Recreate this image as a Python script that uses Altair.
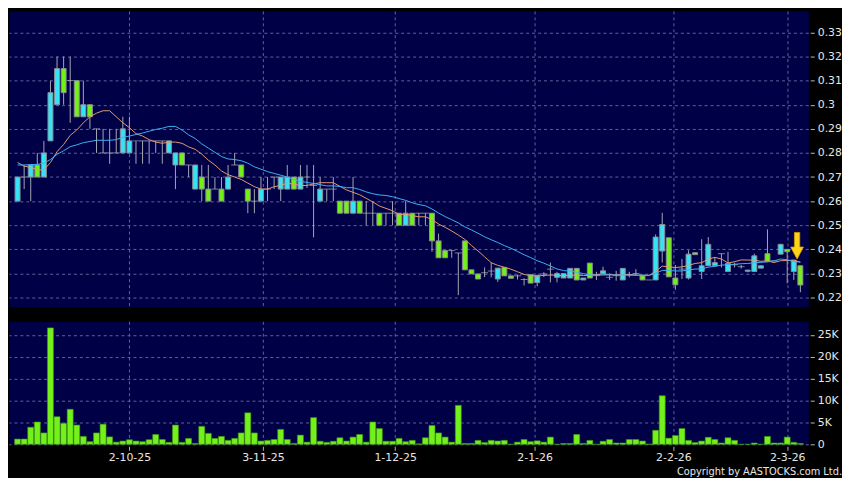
import altair as alt
import pandas as pd
import numpy as np

# ---- data ----
opens = [0.260, 0.270, 0.270, 0.275, 0.270, 0.285, 0.300, 0.315, 0.310, 0.310,
         0.295, 0.300, 0.290, 0.280, 0.280, 0.280, 0.280, 0.280, 0.285, 0.285,
         0.285, 0.285, 0.285, 0.280, 0.275, 0.280, 0.275, 0.265, 0.270, 0.265,
         0.265, 0.265, 0.265, 0.275, 0.275, 0.265, 0.260, 0.260, 0.265, 0.270,
         0.265, 0.265, 0.270, 0.265, 0.270, 0.2665, 0.260, 0.265, 0.265, 0.260,
         0.260, 0.255, 0.260, 0.255, 0.255, 0.255, 0.255, 0.255, 0.255, 0.250,
         0.255, 0.255, 0.255, 0.255, 0.2435, 0.2395, 0.2395, 0.2385, 0.2435, 0.2315,
         0.2298, 0.2303, 0.231, 0.2277, 0.2325, 0.229, 0.229, 0.2275, 0.2295, 0.2262,
         0.2298, 0.2318, 0.2284, 0.2281, 0.2281, 0.2321, 0.2273, 0.2343, 0.2291, 0.230,
         0.2284, 0.2291, 0.2273, 0.2295, 0.230, 0.2291, 0.2273, 0.2273, 0.2393, 0.2448,
         0.2281, 0.2318, 0.2281, 0.2386, 0.2308, 0.2332, 0.2332, 0.2382, 0.2308, 0.2336,
         0.2328, 0.2309, 0.2308, 0.2322, 0.2382, 0.2352, 0.238, 0.240, 0.2308, 0.2332]
highs = [0.270, 0.275, 0.275, 0.280, 0.285, 0.310, 0.320, 0.320, 0.320, 0.310,
         0.310, 0.300, 0.290, 0.290, 0.290, 0.290, 0.295, 0.295, 0.285, 0.285,
         0.285, 0.285, 0.285, 0.285, 0.280, 0.280, 0.275, 0.275, 0.275, 0.275,
         0.270, 0.270, 0.275, 0.280, 0.275, 0.265, 0.265, 0.270, 0.270, 0.270,
         0.270, 0.275, 0.270, 0.275, 0.275, 0.275, 0.270, 0.265, 0.270, 0.260,
         0.260, 0.270, 0.260, 0.260, 0.260, 0.255, 0.255, 0.260, 0.255, 0.260,
         0.255, 0.255, 0.255, 0.255, 0.2465, 0.2395, 0.2395, 0.2385, 0.2435, 0.2315,
         0.2298, 0.2325, 0.2345, 0.2322, 0.2325, 0.229, 0.2295, 0.228, 0.2295, 0.2295,
         0.2305, 0.2345, 0.2307, 0.230, 0.2321, 0.2321, 0.2281, 0.2343, 0.2307, 0.2328,
         0.230, 0.2311, 0.2321, 0.2307, 0.2318, 0.2291, 0.2273, 0.2462, 0.2551, 0.2448,
         0.2335, 0.236, 0.2396, 0.2386, 0.2442, 0.2451, 0.2368, 0.2382, 0.239, 0.2345,
         0.2335, 0.2314, 0.2382, 0.2332, 0.2483, 0.2352, 0.2421, 0.240, 0.2355, 0.2332]
lows = [0.260, 0.265, 0.260, 0.270, 0.270, 0.285, 0.300, 0.300, 0.2925, 0.295,
        0.295, 0.290, 0.280, 0.280, 0.2755, 0.280, 0.280, 0.280, 0.2755, 0.2755,
        0.2755, 0.280, 0.2755, 0.280, 0.265, 0.275, 0.270, 0.265, 0.260, 0.260,
        0.265, 0.260, 0.265, 0.275, 0.270, 0.255, 0.255, 0.260, 0.260, 0.265,
        0.260, 0.265, 0.265, 0.265, 0.2655, 0.245, 0.260, 0.260, 0.260, 0.255,
        0.255, 0.255, 0.255, 0.250, 0.250, 0.250, 0.250, 0.250, 0.250, 0.250,
        0.250, 0.250, 0.250, 0.239, 0.2365, 0.2365, 0.2365, 0.221, 0.2315, 0.2298,
        0.2277, 0.2285, 0.2284, 0.2265, 0.229, 0.228, 0.2275, 0.225, 0.226, 0.2247,
        0.2285, 0.2263, 0.2263, 0.2281, 0.2281, 0.2273, 0.2273, 0.2281, 0.2273, 0.230,
        0.2273, 0.227, 0.2273, 0.2284, 0.2291, 0.2273, 0.2273, 0.2273, 0.2345, 0.2286,
        0.2232, 0.2277, 0.2275, 0.2378, 0.2277, 0.2332, 0.2332, 0.2325, 0.2308, 0.2325,
        0.232, 0.2305, 0.2308, 0.2322, 0.2349, 0.2352, 0.238, 0.2259, 0.2273, 0.2222]
closes = [0.270, 0.270, 0.275, 0.270, 0.280, 0.305, 0.315, 0.305, 0.310, 0.295,
          0.300, 0.295, 0.290, 0.280, 0.280, 0.280, 0.290, 0.285, 0.285, 0.285,
          0.285, 0.285, 0.285, 0.285, 0.280, 0.275, 0.275, 0.275, 0.265, 0.260,
          0.265, 0.260, 0.270, 0.275, 0.270, 0.260, 0.260, 0.265, 0.265, 0.270,
          0.270, 0.270, 0.265, 0.270, 0.270, 0.2665, 0.265, 0.265, 0.265, 0.255,
          0.255, 0.260, 0.255, 0.255, 0.255, 0.250, 0.255, 0.255, 0.250, 0.255,
          0.250, 0.255, 0.255, 0.2435, 0.2365, 0.2365, 0.2395, 0.2385, 0.2315, 0.2298,
          0.2277, 0.2303, 0.231, 0.2322, 0.229, 0.228, 0.229, 0.2275, 0.226, 0.229,
          0.2298, 0.2318, 0.230, 0.230, 0.2321, 0.2273, 0.2281, 0.2281, 0.2291, 0.2311,
          0.2284, 0.2291, 0.2321, 0.2295, 0.230, 0.2273, 0.2273, 0.2451, 0.2503, 0.2286,
          0.2253, 0.2318, 0.238, 0.2378, 0.2332, 0.2421, 0.2345, 0.2382, 0.2341, 0.2336,
          0.2328, 0.2314, 0.2373, 0.2332, 0.2349, 0.2352, 0.2421, 0.239, 0.2355, 0.2252]
volumes_k = [1.2, 1.2, 3.9, 5.1, 2.6, 26.6, 6.3, 4.8, 8.0, 4.4,
             1.8, 0.6, 2.6, 4.6, 1.7, 0.5, 0.75, 1.05, 0.75, 0.6,
             1.05, 2.25, 1.1, 0.45, 4.4, 0.45, 1.35, 0.2, 4.1, 2.5,
             1.35, 1.8, 0.9, 1.35, 2.6, 7.2, 2.6, 0.75, 0.9, 1.1,
             3.4, 1.1, 0.2, 2.1, 0.5, 6.1, 0.7, 0.45, 0.7, 1.5,
             0.75, 1.65, 2.25, 0.5, 5.1, 3.6, 0.7, 0.7, 1.35, 0.6,
             0.9, 0.1, 1.5, 4.3, 2.6, 1.65, 0.5, 8.9, 0.2, 0.2,
             0.9, 0.4, 0.9, 0.75, 0.9, 0.0, 0.5, 1.1, 0.6, 0.8,
             0.5, 1.65, 0.0, 0.2, 0.2, 2.25, 0.2, 0.9, 0.0, 0.7,
             1.1, 0.3, 0.3, 1.1, 1.1, 0.75, 0.05, 3.2, 11.1, 1.4,
             2.0, 3.6, 0.9, 0.4, 0.75, 1.6, 1.1, 0.3, 1.5, 0.9,
             0.0, 0.0, 0.3, 0.0, 1.8, 0.3, 0.3, 1.65, 0.45, 0.2]
# estimated closes of the sessions just before the window (only feed the moving averages)
prior_closes = [0.270, 0.272, 0.268, 0.270, 0.275, 0.272, 0.275, 0.276, 0.280, 0.282,
                0.285, 0.280, 0.280, 0.280, 0.275, 0.270, 0.275, 0.272, 0.273]

tick_pos = [17, 37.3, 57.4, 78.6, 99.7, 117]
tick_labels = ["2-10-25", "3-11-25", "1-12-25", "2-1-26", "2-2-26", "2-3-26"]
price_ticks = [0.22, 0.23, 0.24, 0.25, 0.26, 0.27, 0.28, 0.29, 0.30, 0.31, 0.32, 0.33]
vol_ticks = [0, 5000, 10000, 15000, 20000, 25000]
arrow_i = [118.5]
arrow_price = [0.2415]
copyright_text = "Copyright by AASTOCKS.com Ltd."

# ---- build tables ----
n = len(closes)
all_close = pd.Series(prior_closes + closes)
ma10 = all_close.rolling(10).mean().iloc[len(prior_closes):].to_numpy()
ma20 = all_close.rolling(20).mean().iloc[len(prior_closes):].to_numpy()
o = np.array(opens); c = np.array(closes)
direction = np.where(c > o + 1e-9, "up", np.where(c < o - 1e-9, "down", "doji"))
df = pd.DataFrame({
    "i": np.arange(n), "open": opens, "high": highs, "low": lows, "close": closes,
    "volume": np.array(volumes_k) * 1000, "ma10": ma10, "ma20": ma20, "dir": direction,
})
arrow_df = pd.DataFrame({"i": arrow_i, "p": arrow_price})

CYAN = "#36e3f5"
GREEN = "#72f214"
GRID = "#62629a"
LABEL = "#e6e6e6"
W = 806
XDOM = [-0.55, 119.45]
x_label_expr = " : ".join(
    f"abs(datum.value - {v}) < 0.01 ? '{t}'" for v, t in zip(tick_pos, tick_labels)
) + " : ''"

xs = alt.Scale(domain=XDOM, nice=False, zero=False)
x_axis_price = alt.Axis(values=tick_pos, labels=False, ticks=False, domain=False, grid=True,
                        gridDash=[3, 3], gridColor=GRID, title=None)
ps = alt.Scale(domain=[0.2163, 0.3389], nice=False, zero=False)
y_axis = alt.Axis(orient="right", values=price_ticks, format=".2~f", grid=True, gridDash=[3, 3],
                  gridColor=GRID, domain=False, tickSize=4, tickColor="#bbbbbb", offset=2,
                  labelColor=LABEL, labelFontSize=11, labelFont="DejaVu Sans", labelPadding=3,
                  labelOverlap=False, labelBound=False, labelFlush=False, title=None)


def X():
    return alt.X("i:Q", scale=xs, axis=x_axis_price)


def Y(field):
    return alt.Y(field, scale=ps, axis=y_axis)


base = alt.Chart(df)
wick = base.mark_rule(color="#a6a6b2", strokeWidth=1).encode(
    x=X(), y=Y("low:Q"), y2="high:Q")
body = base.transform_filter("datum.dir != 'doji'").mark_bar(
    size=5, stroke="#8c8c96", strokeWidth=1).encode(
    x=X(), y=Y("open:Q"), y2="close:Q",
    fill=alt.Fill("dir:N", scale=alt.Scale(domain=["up", "down"], range=[CYAN, GREEN]), legend=None))
doji = base.transform_filter("datum.dir == 'doji'").mark_tick(
    orient="horizontal", size=7, thickness=1, color="#b0b0b8").encode(
    x=X(), y=Y("close:Q"))
line10 = base.mark_line(color="#e39a72", strokeWidth=1).encode(x=X(), y=Y("ma10:Q"))
line20 = base.mark_line(color="#3fb0f2", strokeWidth=1).encode(x=X(), y=Y("ma20:Q"))
arrow_path = "M-0.2,-1 L0.2,-1 L0.2,0.1 L0.48,0.1 L0,1 L-0.48,0.1 L-0.2,0.1 Z"
arrow = alt.Chart(arrow_df).mark_point(shape=arrow_path, size=720, filled=True,
                                        fill="#ffd21a", stroke="#d89a00", strokeWidth=0.8,
                                        opacity=1).encode(x=X(), y=Y("p:Q"))

price = alt.layer(wick, body, doji, line10, line20, arrow).properties(width=W, height=298)

vol_axis = alt.Axis(orient="right", values=vol_ticks,
                    labelExpr="datum.value == 0 ? '0' : (datum.value / 1000) + 'K'",
                    grid=True, gridDash=[3, 3], gridColor=GRID, domain=False, tickSize=4,
                    tickColor="#bbbbbb", offset=2, labelColor=LABEL, labelFontSize=11,
                    labelFont="DejaVu Sans", labelPadding=3, labelOverlap=False,
                    labelBound=False, labelFlush=False, title=None)
x_vol = alt.X("i:Q", scale=xs, axis=alt.Axis(values=tick_pos, labelExpr=x_label_expr, grid=True,
              gridDash=[3, 3], gridColor=GRID, domain=False, tickSize=4, tickColor="#bbbbbb",
              offset=2, labelColor=LABEL, labelFontSize=11, labelFont="DejaVu Sans",
              labelPadding=1, labelFlush=False, labelOverlap=False, title=None))
volume = alt.Chart(df).mark_bar(size=6, fill="#74f01a", stroke="#3f9a0c", strokeWidth=0.6).encode(
    x=x_vol, y=alt.Y("volume:Q", scale=alt.Scale(domain=[0, 28100], nice=False), axis=vol_axis)
).properties(width=W, height=124)

chart = alt.vconcat(price, volume, spacing=13).properties(
    padding=0,
    title=alt.TitleParams(copyright_text, orient="bottom", anchor="end", fontSize=11,
                          font="DejaVu Sans Condensed, DejaVu Sans", fontWeight="normal",
                          color="#e6e6e6", offset=3),
).configure(background="#000000").configure_view(fill="#000046", stroke="transparent")

chart.save("out.html", embed_options={"renderer": "svg", "actions": False})
